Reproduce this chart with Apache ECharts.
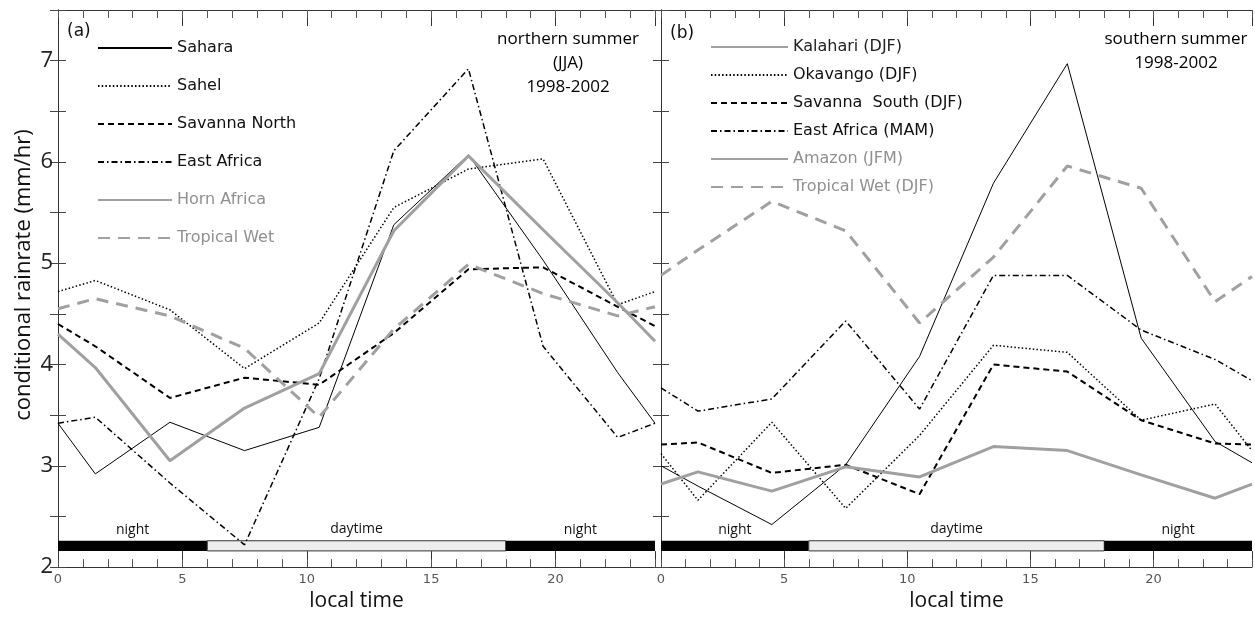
<!DOCTYPE html>
<html>
<head>
<meta charset="utf-8">
<script src="https://cdn.jsdelivr.net/npm/echarts@6/dist/echarts.min.js"></script>
<style>
html, body { margin: 0; padding: 0; background: #fff; }
#chart { width: 1255px; height: 617px; }
</style>
</head>
<body>
<div id="chart"></div>
<script>
// local time of the 3-hourly samples (wrapped to 0 and 24)
var hours = [0, 1.5, 4.5, 7.5, 10.5, 13.5, 16.5, 19.5, 22.5, 24];

// (a) northern summer (JJA)
var sahara       = [3.42, 2.92, 3.43, 3.15, 3.38, 5.38, 6.07, 5.03, 3.92, 3.42];
var sahel        = [4.72, 4.83, 4.54, 3.96, 4.41, 5.55, 5.93, 6.03, 4.59, 4.72];
var savannaNorth = [4.40, 4.18, 3.67, 3.87, 3.80, 4.31, 4.94, 4.96, 4.57, 4.38];
var eastAfricaN  = [3.42, 3.48, 2.83, 2.22, 3.86, 6.11, 6.92, 4.18, 3.28, 3.42];
var hornAfrica   = [4.30, 3.97, 3.05, 3.57, 3.91, 5.32, 6.06, 5.33, 4.61, 4.23];
var tropWetN     = [4.55, 4.65, 4.48, 4.16, 3.48, 4.35, 4.99, 4.70, 4.48, 4.57];

// (b) southern summer
var kalahari     = [3.00, 2.80, 2.42, 3.01, 4.08, 5.79, 6.97, 4.26, 3.24, 3.03];
var okavango     = [3.12, 2.66, 3.43, 2.58, 3.30, 4.19, 4.12, 3.45, 3.61, 3.15];
var savannaSouth = [3.21, 3.23, 2.93, 3.01, 2.72, 4.00, 3.93, 3.45, 3.22, 3.21];
var eastAfricaS  = [3.77, 3.54, 3.66, 4.43, 3.56, 4.88, 4.88, 4.34, 4.05, 3.84];
var amazon       = [2.82, 2.94, 2.75, 2.99, 2.89, 3.19, 3.15, 2.91, 2.68, 2.82];
var tropWetS     = [4.88, 5.13, 5.61, 5.32, 4.41, 5.06, 5.96, 5.74, 4.62, 4.87];

// day / night bar
var dayStart = 6, dayEnd = 18;
var barLow = 2.16, barHigh = 2.26;

var GRAY = '#a0a0a0';
var thin   = { color: '#000', width: 1, type: 'solid' };
var dotted = { color: '#000', width: 1.5, type: [1.5, 2.2] };
var dashed = { color: '#000', width: 2, type: [6, 4] };
var dashdot = { color: '#000', width: 1.5, type: [6, 3, 1.5, 3] };
var grayThick = { color: GRAY, width: 3, type: 'solid' };
var grayDash  = { color: GRAY, width: 3, type: [12, 8] };

function pairs(arr) {
  return hours.map(function (h, i) { return [h, arr[i]]; });
}

function line(name, arr, style, g) {
  return {
    name: name, type: 'line', xAxisIndex: g * 4, yAxisIndex: g * 2,
    data: pairs(arr), symbol: 'none', showSymbol: false, lineStyle: style,
    itemStyle: { color: style.color }, z: 3, animation: false
  };
}

function dayNight(g) {
  return {
    type: 'line', xAxisIndex: g * 4, yAxisIndex: g * 2, data: [], silent: true,
    markArea: {
      silent: true,
      label: { show: true, position: 'top', distance: 4, color: '#111',
               fontFamily: 'Open Sans', fontSize: 14 },
      data: [
        [{ name: 'night', xAxis: 0, yAxis: barLow, itemStyle: { color: '#000' } },
         { xAxis: dayStart, yAxis: barHigh }],
        [{ name: 'daytime', xAxis: dayStart, yAxis: barLow,
           itemStyle: { color: '#eeeeee', borderColor: '#333', borderWidth: 1 } },
         { xAxis: dayEnd, yAxis: barHigh }],
        [{ name: 'night', xAxis: dayEnd, yAxis: barLow, itemStyle: { color: '#000' } },
         { xAxis: 24, yAxis: barHigh }]
      ]
    },
    z: 2
  };
}

function xAxes(g) {
  var base = { gridIndex: g, type: 'value', min: 0, max: 24, splitLine: { show: false } };
  return [
    Object.assign({}, base, {
      position: 'bottom', interval: 5,
      axisLine: { lineStyle: { color: '#333', width: 1 } },
      axisTick: { inside: true, length: 16, lineStyle: { color: '#333' } },
      axisLabel: { color: '#555', fontFamily: 'DejaVu Sans', fontSize: 13, margin: 6,
                   formatter: function (v) { return v === 24 ? '' : v; } },
      name: 'local time', nameLocation: 'middle', nameGap: 17,
      nameTextStyle: { fontFamily: 'Open Sans', fontSize: 21, color: '#111' }
    }),
    Object.assign({}, base, {
      position: 'bottom', interval: 1, axisLine: { show: false },
      axisTick: { inside: true, length: 8, lineStyle: { color: '#555' } },
      axisLabel: { show: false }
    }),
    Object.assign({}, base, {
      position: 'top', interval: 5,
      axisLine: { lineStyle: { color: '#333', width: 1 } },
      axisTick: { inside: true, length: 16, lineStyle: { color: '#333' } },
      axisLabel: { show: false }
    }),
    Object.assign({}, base, {
      position: 'top', interval: 1, axisLine: { show: false },
      axisTick: { inside: true, length: 8, lineStyle: { color: '#555' } },
      axisLabel: { show: false }
    })
  ];
}

function yAxes(g, labels) {
  var base = {
    gridIndex: g, type: 'value', min: 2, max: 7.5, interval: 0.5,
    splitLine: { show: false },
    axisLine: { show: true, lineStyle: { color: '#333', width: 1 } },
    axisTick: { show: true, inside: true, length: 8, lineStyle: { color: '#444' } }
  };
  var left = Object.assign({}, base, {
    position: 'left',
    axisLabel: { show: labels, color: '#222', fontFamily: 'Open Sans', fontSize: 22, margin: 5,
                 formatter: function (v) { return v % 1 === 0 ? v : ''; } }
  });
  var right = Object.assign({}, base, { position: 'right', axisLabel: { show: false } });
  return [left, right];
}

function legendItem(name, color, lineColor) {
  var it = { name: name, textStyle: { color: color } };
  if (lineColor) it.lineStyle = { color: lineColor };
  return it;
}

var option = {
  backgroundColor: '#fff',
  animation: false,
  grid: [
    { left: 58, top: 10, width: 597, height: 565 },
    { left: 661, top: 10, width: 597, height: 565 }
  ],
  xAxis: xAxes(0).concat(xAxes(1)),
  yAxis: yAxes(0, true).concat(yAxes(1, false)),
  legend: [
    {
      orient: 'vertical', left: 97, top: 40, padding: 0,
      itemWidth: 74, itemHeight: 14, itemGap: 22,
      selectedMode: false, itemStyle: { opacity: 0 },
      textStyle: { fontFamily: 'DejaVu Sans', fontSize: 16, lineHeight: 16 },
      data: [
        legendItem('Sahara', '#111'), legendItem('Sahel', '#111'),
        legendItem('Savanna North', '#111'), legendItem('East Africa', '#111'),
        legendItem('Horn Africa', '#909090'), legendItem('Tropical Wet', '#909090')
      ]
    },
    {
      orient: 'vertical', left: 710, top: 39, padding: 0,
      itemWidth: 77, itemHeight: 14, itemGap: 12,
      selectedMode: false, itemStyle: { opacity: 0 },
      textStyle: { fontFamily: 'DejaVu Sans', fontSize: 16, lineHeight: 16 },
      data: [
        legendItem('Kalahari (DJF)', '#222', GRAY), legendItem('Okavango (DJF)', '#111'),
        legendItem('Savanna  South (DJF)', '#111'), legendItem('East Africa (MAM)', '#111'),
        legendItem('Amazon (JFM)', '#909090'), legendItem('Tropical Wet (DJF)', '#909090')
      ]
    }
  ],
  graphic: [
    { type: 'text', x: 24, y: 275, rotation: Math.PI / 2,
      style: { text: 'conditional rainrate (mm/hr)', font: '22px "Open Sans"', fill: '#111',
               textAlign: 'center', textVerticalAlign: 'middle' } },
    { type: 'text', left: 67, top: 23,
      style: { text: '(a)', font: '17px "DejaVu Sans"', fill: '#111' } },
    { type: 'text', x: 568, y: 27,
      style: { text: 'northern summer\n(JJA)\n1998-2002', font: '17px "Open Sans"',
               textAlign: 'center', textVerticalAlign: 'top', lineHeight: 24, fill: '#000' } },
    { type: 'text', left: 670, top: 25,
      style: { text: '(b)', font: '17px "DejaVu Sans"', fill: '#111' } },
    { type: 'text', x: 1176, y: 27,
      style: { text: 'southern summer\n1998-2002', font: '17px "Open Sans"',
               textAlign: 'center', textVerticalAlign: 'top', lineHeight: 24, fill: '#000' } }
  ],
  series: [
    dayNight(0),
    line('Sahara', sahara, thin, 0),
    line('Sahel', sahel, dotted, 0),
    line('Savanna North', savannaNorth, dashed, 0),
    line('East Africa', eastAfricaN, dashdot, 0),
    line('Horn Africa', hornAfrica, grayThick, 0),
    line('Tropical Wet', tropWetN, grayDash, 0),
    dayNight(1),
    line('Kalahari (DJF)', kalahari, thin, 1),
    line('Okavango (DJF)', okavango, dotted, 1),
    line('Savanna  South (DJF)', savannaSouth, dashed, 1),
    line('East Africa (MAM)', eastAfricaS, dashdot, 1),
    line('Amazon (JFM)', amazon, grayThick, 1),
    line('Tropical Wet (DJF)', tropWetS, grayDash, 1)
  ]
};

var myChart = echarts.init(document.getElementById('chart'));
myChart.setOption(option, true);
</script>
</body>
</html>
